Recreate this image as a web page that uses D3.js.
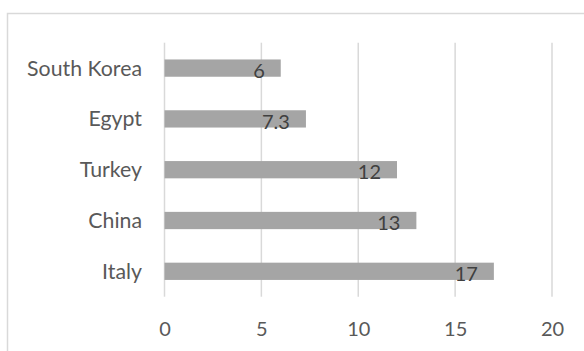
<!DOCTYPE html>
<html><head><meta charset="utf-8">
<script src="https://cdn.jsdelivr.net/npm/d3@7"></script>
<style>body{margin:0;background:#fff;}svg{display:block;}</style>
</head><body>
<script>
const categories = ["South Korea", "Egypt", "Turkey", "China", "Italy"];
const values = [6, 7.3, 12, 13, 17];
const labels = ["6", "7.3", "12", "13", "17"];
const ticks = [0, 5, 10, 15, 20];

const W = 584, H = 351;
const svg = d3.select("body").append("svg").attr("width", W).attr("height", H);
const font = "Lato, 'Open Sans', sans-serif";

svg.append("rect").attr("x", 7.5).attr("y", 13.5).attr("width", W + 10).attr("height", H + 10)
  .attr("fill", "#fff").attr("stroke", "#d9d9d9").attr("stroke-width", 1.5);

const x = d3.scaleLinear().domain([0, 20]).range([164.5, 552]);
const y = d3.scaleBand().domain(categories).range([42.7, 296.7]).paddingInner(0.66).paddingOuter(0.33);

const g = svg.append("g");
g.selectAll("line.grid").data(ticks).join("line").attr("class", "grid")
  .attr("x1", d => x(d)).attr("x2", d => x(d)).attr("y1", 42.7).attr("y2", 296.7)
  .attr("stroke", "#d9d9d9").attr("stroke-width", 1.5);

g.selectAll("rect.bar").data(values).join("rect").attr("class", "bar")
  .attr("x", x(0)).attr("y", (d, i) => y(categories[i]))
  .attr("width", d => x(d) - x(0)).attr("height", y.bandwidth())
  .attr("fill", "#a5a5a5");

g.selectAll("text.val").data(values).join("text").attr("class", "val")
  .attr("x", d => x(d) - 16).attr("y", (d, i) => y(categories[i]) + y.bandwidth() + 1)
  .attr("text-anchor", "end").attr("font-family", font).attr("font-size", 20)
  .attr("fill", "#404040").text((d, i) => labels[i]);

const xAxis = d3.axisBottom(x).tickValues(ticks).tickSize(0).tickPadding(0);
const ax = svg.append("g").attr("transform", "translate(0,336)").call(xAxis);
ax.select(".domain").remove();
ax.selectAll("text").attr("dy", 0).attr("font-family", font).attr("font-size", 20).attr("fill", "#595959");

const yAxis = d3.axisLeft(y).tickSize(0).tickPadding(0);
const ay = svg.append("g").attr("transform", "translate(142,0)").call(yAxis);
ay.select(".domain").remove();
ay.selectAll("text").attr("dy", "0.35em").attr("font-family", font).attr("font-size", 21.3).attr("fill", "#595959");
</script>
</body></html>
